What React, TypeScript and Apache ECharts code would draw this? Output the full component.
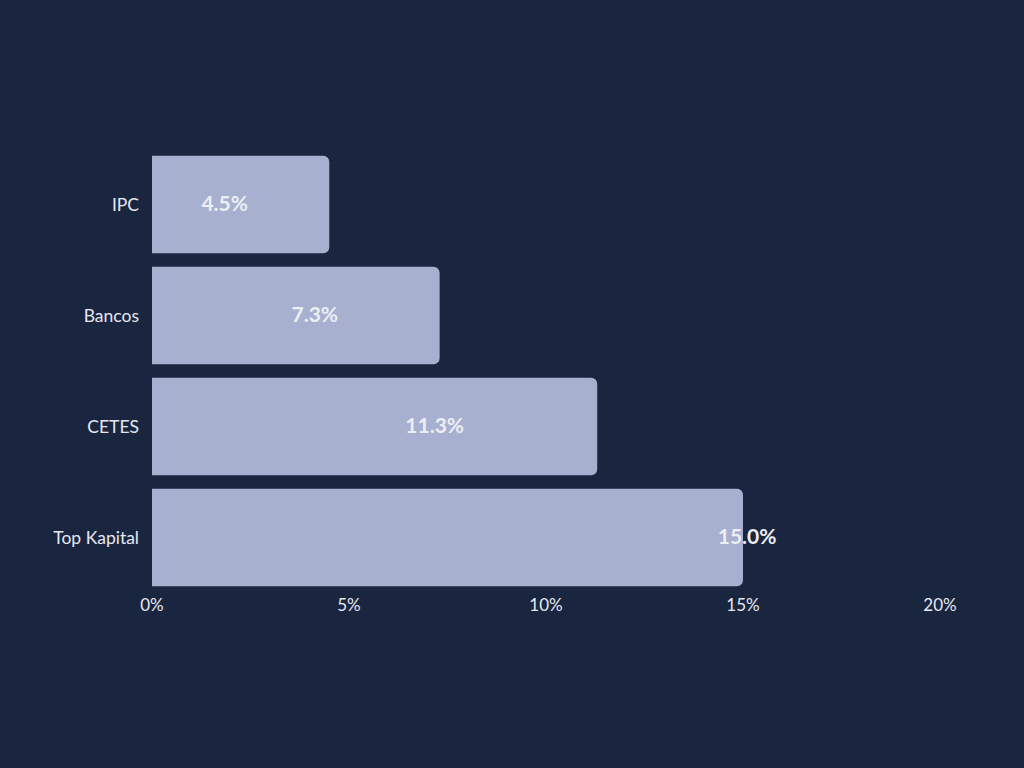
import React, { useEffect, useRef } from "react";
import * as echarts from "echarts";

const categories = ["IPC", "Bancos", "CETES", "Top Kapital"];
const values = [4.5, 7.3, 11.3, 15.0];
const xTicks = [0, 5, 10, 15, 20];

export default function App() {
  const ref = useRef<HTMLDivElement>(null);
  useEffect(() => {
    if (!ref.current) return;
    const chart = echarts.init(ref.current, undefined, { renderer: "svg" });
    const labelAnchors = ["41%", "56.6%", "63.5%", "100.7%"];
    chart.setOption({
      animation: false,
      backgroundColor: "#1a2540",
      grid: { left: 152, right: 84, top: 149, bottom: 175, containLabel: false },
      xAxis: {
        type: "value",
        min: xTicks[0],
        max: xTicks[xTicks.length - 1],
        interval: 5,
        axisLine: { show: false },
        axisTick: { show: false },
        splitLine: { show: false },
        axisLabel: {
          color: "#e6e8f0",
          fontFamily: "Lato",
          fontSize: 17,
          margin: 3,
          formatter: (v: number) => `${v}%`,
        },
      },
      yAxis: {
        type: "category",
        data: categories,
        inverse: true,
        axisLine: { show: false },
        axisTick: { show: false },
        axisLabel: {
          color: "#e6e8f0",
          fontFamily: "Lato",
          fontSize: 17.5,
          margin: 13,
        },
      },
      series: [
        {
          type: "bar",
          barCategoryGap: "12%",
          data: values.map((v, i) => ({
            value: v,
            label: { position: [labelAnchors[i], "48%"] },
          })),
          itemStyle: { color: "#a7b0cf", borderRadius: [0, 6, 6, 0] },
          label: {
            show: true,
            color: "#eceef4",
            fontFamily: "Lato",
            fontWeight: "bold",
            fontSize: 21,
            align: "center",
            verticalAlign: "middle",
            formatter: (p: any) => `${Number(p.value).toFixed(1)}%`,
          },
        },
      ],
    });
    return () => chart.dispose();
  }, []);
  return <div ref={ref} style={{ width: 1024, height: 768, position: "absolute", left: 0, top: 0 }} />;
}
